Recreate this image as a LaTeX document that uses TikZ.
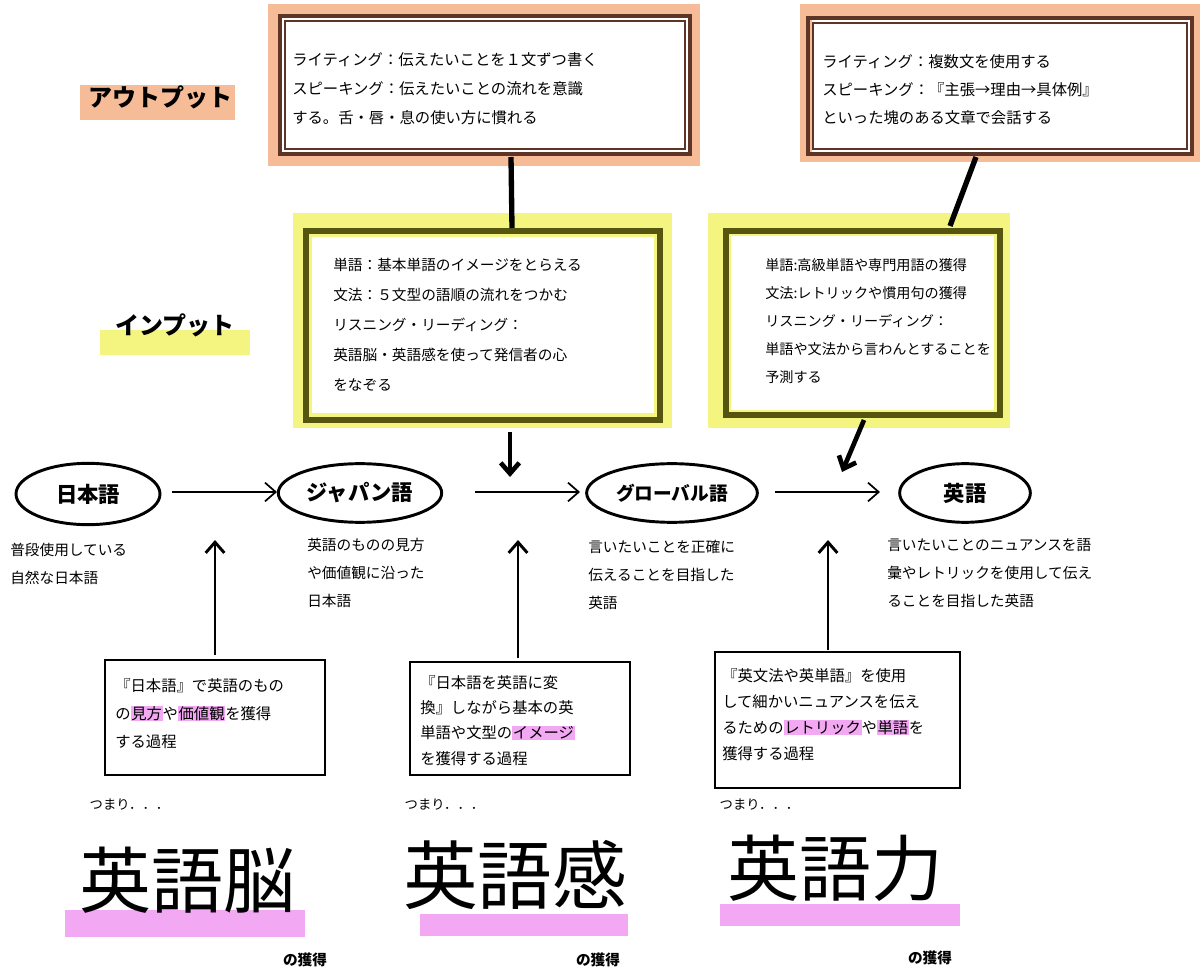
\documentclass[tikz,border=0pt]{standalone}
\usepackage{fontspec}
\setmainfont{Noto Sans CJK JP}
\usetikzlibrary{arrows.meta,shapes.geometric}
\definecolor{org}{HTML}{F6BC98}
\definecolor{brn}{HTML}{5E3426}
\definecolor{ylw}{HTML}{F4F480}
\definecolor{olv}{HTML}{55550F}
\definecolor{pnk}{HTML}{F2A8F2}
\newcommand{\hlp}[1]{{\setlength{\fboxsep}{0.5pt}\colorbox{pnk}{#1}}}
\tikzset{
 txt/.style={anchor=north west,align=left,font=\fontsize{11}{21}\selectfont,inner sep=0},
 ell/.style={draw,line width=2.2pt,ellipse,font=\bfseries\fontsize{16}{18}\selectfont},
 harr/.style={-{Straight Barb[length=8pt,width=14pt]},line width=1.3pt},
 varr/.style={-{Straight Barb[length=8pt,width=14pt]},line width=2.2pt},
 bbox/.style={draw,line width=2.2pt},
 big/.style={font=\fontsize{54}{60}\selectfont},
 lab/.style={font=\bfseries\fontsize{18}{20}\selectfont},
 gk/.style={font=\bfseries\fontsize{11}{13}\selectfont},
 tm/.style={font=\fontsize{10}{12}\selectfont,anchor=west},
}
\begin{document}
\begin{tikzpicture}[x=0.75pt,y=-0.75pt]
\useasboundingbox (0,0) rectangle (1200,973);
\fill[white] (0,0) rectangle (1200,973);
% labels
\fill[org] (80,85) rectangle (235,120);
\node[lab] (out) at (160,97) {アウトプット};
\fill[ylw] (100,330) rectangle (250,355);
\node[lab] (inp) at (175,325) {インプット};
% output boxes
\fill[org] (268,4) rectangle (700,166);
\fill[white] (282,18) rectangle (688,152);
\draw[brn,line width=3pt] (280,16) rectangle (690,154);
\draw[brn,line width=1.5pt] (285,21) rectangle (685,149);
\node[txt,font=\fontsize{11.5}{22}\selectfont] (o1) at (292,52) {ライティング：伝えたいことを１文ずつ書く\\スピーキング：伝えたいことの流れを意識\\する。舌・唇・息の使い方に慣れる};
\fill[org] (800,4) rectangle (1200,162);
\fill[white] (812,20) rectangle (1190,152);
\draw[brn,line width=3pt] (808,18) rectangle (1192,154);
\draw[brn,line width=1.5pt] (813,23) rectangle (1187,149);
\node[txt,font=\fontsize{11.5}{21}\selectfont] (o2) at (822,54) {ライティング：複数文を使用する\\スピーキング：『主張→理由→具体例』\\といった塊のある文章で会話する};
% input boxes
\fill[ylw] (293,213) rectangle (672,428);
\fill[white] (312,237) rectangle (654,413);
\draw[olv,line width=5pt] (306,231) rectangle (660,420);
\node[txt,font=\fontsize{11}{22.5}\selectfont] (i1) at (333,258) {単語：基本単語のイメージをとらえる\\文法：５文型の語順の流れをつかむ\\リスニング・リーディング：\\英語脳・英語感を使って発信者の心\\をなぞる};
\fill[ylw] (708,213) rectangle (1010,428);
\fill[white] (731,236) rectangle (994,410);
\draw[olv,line width=4pt] (726,231) rectangle (1000,415);
\node[txt,font=\fontsize{10.6}{21}\selectfont] (i2) at (765,258) {単語:高級単語や専門用語の獲得\\文法:レトリックや慣用句の獲得\\リスニング・リーディング：\\単語や文法から言わんとすることを\\予測する};
% connectors output->input
\coordinate (c1a) at (511,157); \coordinate (c1b) at (512,228);
\draw[line width=4pt] (c1a) -- (c1b);
\coordinate (c2a) at (976,157); \coordinate (c2b) at (950,226);
\draw[line width=4pt] (c2a) -- (c2b);
% ellipses
\node[ell,minimum width=108pt,minimum height=46pt] (jp) at (88,494) {日本語};
\node[ell,minimum width=90pt,minimum height=44pt] (ja) at (360,493) {ジャパン語};
\node[ell,font=\bfseries\fontsize{14}{16}\selectfont,minimum width=96pt,minimum height=44pt] (gl) at (672,493) {グローバル語};
\node[ell,minimum width=98pt,minimum height=44pt] (en) at (965,493) {英語};
\coordinate (h1a) at (172,492); \coordinate (h1b) at (277,492);
\coordinate (h2a) at (475,492); \coordinate (h2b) at (580,492);
\coordinate (h3a) at (775,492); \coordinate (h3b) at (880,492);
\draw[harr] (h1a) -- (h1b);
\draw[harr] (h2a) -- (h2b);
\draw[harr] (h3a) -- (h3b);
% down arrows
\coordinate (d1a) at (510,432); \coordinate (d1b) at (510,477);
\draw[varr,line width=3.5pt] (d1a) -- (d1b);
\coordinate (d2a) at (864,420); \coordinate (d2b) at (842,472);
\draw[varr,line width=3.5pt] (d2a) -- (d2b);
% descriptions
\node[txt] (t1) at (10,543) {普段使用している\\自然な日本語};
\node[txt] (t2) at (307,538) {英語のものの見方\\や価値観に沿った\\日本語};
\node[txt] (t3) at (588,540) {言いたいことを正確に\\伝えることを目指した\\英語};
\node[txt] (t4) at (887,538) {言いたいことのニュアンスを語\\彙やレトリックを使用して伝え\\ることを目指した英語};
% bottom boxes
\draw[bbox] (105,660) rectangle (325,775);
\node[txt,font=\fontsize{11.5}{21}\selectfont] (b1) at (115,678) {『日本語』で英語のもの\\の\hlp{見方}や\hlp{価値観}を獲得\\する過程};
\draw[bbox] (410,662) rectangle (630,775);
\node[txt,font=\fontsize{11.5}{19}\selectfont] (b2) at (420,675) {『日本語を英語に変\\換』しながら基本の英\\単語や文型の\hlp{イメージ}\\を獲得する過程};
\draw[bbox] (715,652) rectangle (960,788);
\node[txt,font=\fontsize{11.5}{19.5}\selectfont] (b3) at (722,668) {『英文法や英単語』を使用\\して細かいニュアンスを伝え\\るための\hlp{レトリック}や\hlp{単語}を\\獲得する過程};
\coordinate (u1) at (215,655); \coordinate (u1b) at (215,540);
\coordinate (u2) at (518,658); \coordinate (u2b) at (518,540);
\coordinate (u3) at (828,650); \coordinate (u3b) at (828,540);
\draw[varr] (u1) -- (u1b);
\draw[varr] (u2) -- (u2b);
\draw[varr] (u3) -- (u3b);
% tsumari
\node[tm] (s1) at (85,805) {つまり．．．};
\node[tm] (s2) at (400,805) {つまり．．．};
\node[tm] (s3) at (715,805) {つまり．．．};
% big words
\fill[pnk] (65,910) rectangle (305,937);
\fill[pnk] (420,914) rectangle (628,936);
\fill[pnk] (720,904) rectangle (960,926);
\node[big] (w1) at (187,880) {英語脳};
\node[big,font=\fontsize{56}{60}\selectfont] (w2) at (515,875) {英語感};
\node[big] (w3) at (835,868) {英語力};
\node[gk] (g1) at (305,960) {の獲得};
\node[gk] (g2) at (598,960) {の獲得};
\node[gk] (g3) at (930,958) {の獲得};
\end{tikzpicture}
\end{document}
